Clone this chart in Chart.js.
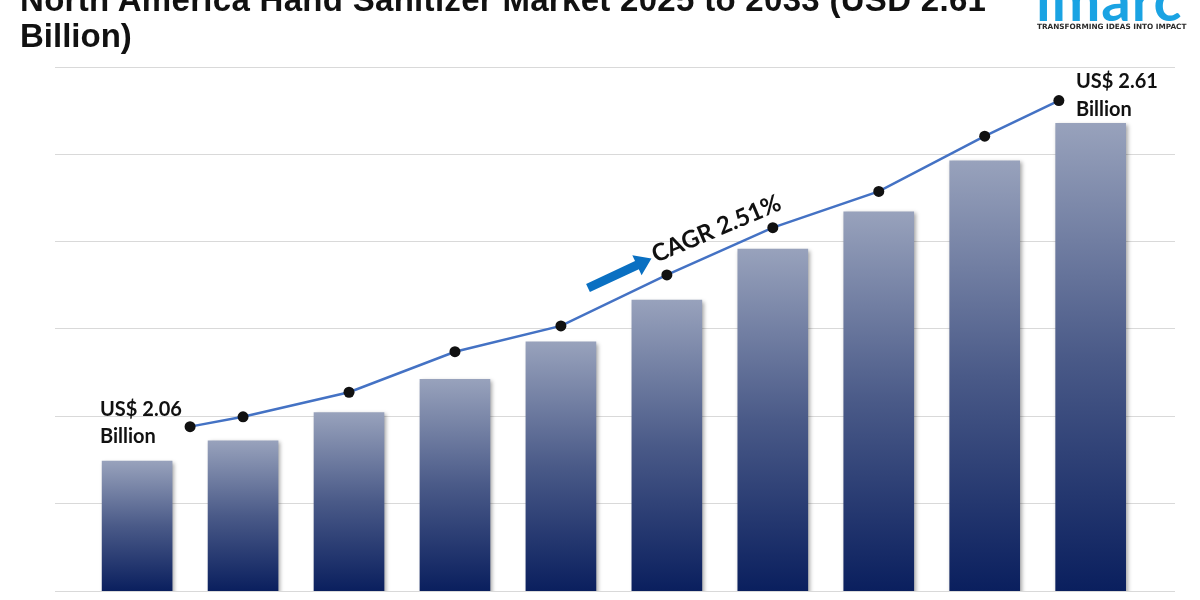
<!DOCTYPE html>
<html>
<head>
<meta charset="utf-8">
<script src="https://cdn.jsdelivr.net/npm/chart.js@4.4.1/dist/chart.umd.min.js"></script>
<style>
  html, body { margin: 0; padding: 0; background: #fff; }
  #wrap { position: relative; width: 1200px; height: 600px; overflow: hidden; }
  #marketChart { position: absolute; left: 0; top: 0; }
  .title { position: absolute; left: 20px; font-family: "Liberation Sans", Arial, sans-serif;
           font-weight: bold; font-size: 33px; color: #111; white-space: nowrap; line-height: 34px; }
  .logo { position: absolute; left: 1036px; top: -29px; font-family: Lato, sans-serif; font-weight: bold;
          font-size: 58px; color: #1aa3e3; line-height: 56px; letter-spacing: 1px; }
  .tagline { position: absolute; left: 1037px; top: 22px; font-family: "DejaVu Sans", sans-serif; font-weight: bold;
             font-size: 7.3px; color: #2b2b2b; white-space: nowrap; }
</style>
</head>
<body>
<div id="wrap">
  <canvas id="marketChart" width="1200" height="600"></canvas>
  <div class="title" style="top:-17px; letter-spacing:0.3px">North America Hand Sanitizer Market 2025 to 2033 (USD 2.61</div>
  <div class="title" style="top:19px">Billion)</div>
  <div class="logo">imarc</div>
  <div class="tagline">TRANSFORMING IDEAS INTO IMPACT</div>
</div>
<script>
// bars: market size, US$ billion
const years = ["2024", "2025", "2026", "2027", "2028", "2029", "2030", "2031", "2032", "2033"];
const marketValues = [2.06, 2.093, 2.139, 2.193, 2.254, 2.322, 2.405, 2.466, 2.549, 2.61];

// decorative trend line above the bars (x in year-index units)
const trendPos = [0.5, 1, 2, 3, 4, 5, 6, 7, 8, 8.7];
const trendValues = [2.116, 2.132, 2.172, 2.238, 2.280, 2.363, 2.440, 2.499, 2.589, 2.647];

const startLabel = ["US$ 2.06", "Billion"];
const endLabel = ["US$ 2.61", "Billion"];
const cagrLabel = "CAGR 2.51%";

const barData = years.map((y, i) => ({ x: i, y: marketValues[i] }));
const lineData = trendPos.map((p, i) => ({ x: p, y: trendValues[i] }));

function barGradient(context) {
    const chart = context.chart;
    const { chartArea, scales } = chart;
    if (!chartArea || context.type !== "data") return "#44558a";
    const top = scales.y.getPixelForValue(context.raw.y);
    const bottom = scales.y.getPixelForValue(scales.y.min);
    const g = chart.ctx.createLinearGradient(0, top, 0, bottom);
    g.addColorStop(0, "#98a2bc");
    g.addColorStop(0.5, "#4a5a88");
    g.addColorStop(1, "#0a1f5e");
    return g;
}

const barShadow = {
    id: "barShadow",
    beforeDatasetDraw(chart, args) {
        if (args.meta.type !== "bar") return;
        const ctx = chart.ctx;
        ctx.save();
        ctx.shadowColor = "rgba(0,0,0,0.35)";
        ctx.shadowBlur = 4;
        ctx.shadowOffsetX = 2;
        ctx.shadowOffsetY = 2;
    },
    afterDatasetDraw(chart, args) {
        if (args.meta.type !== "bar") return;
        chart.ctx.restore();
    }
};

const annotations = {
    id: "annotations",
    afterDraw(chart) {
        const ctx = chart.ctx;
        ctx.save();
        ctx.fillStyle = "#111";
        ctx.font = "bold 20px Lato";
        ctx.textBaseline = "alphabetic";
        ctx.fillText(startLabel[0], 100, 416);
        ctx.fillText(startLabel[1], 100, 443);
        ctx.fillText(endLabel[0], 1076, 88);
        ctx.fillText(endLabel[1], 1076, 116);

        // CAGR text
        ctx.save();
        ctx.translate(656, 263);
        ctx.rotate(-23 * Math.PI / 180);
        ctx.font = "bold 24px Lato";
        ctx.fillText(cagrLabel, 0, 0);
        ctx.restore();

        // blue arrow
        ctx.save();
        ctx.translate(588, 288);
        ctx.rotate(-25 * Math.PI / 180);
        ctx.fillStyle = "#0a70c2";
        ctx.beginPath();
        ctx.moveTo(0, -4.5);
        ctx.lineTo(54, -4.5);
        ctx.lineTo(54, -11);
        ctx.lineTo(70, 0);
        ctx.lineTo(54, 11);
        ctx.lineTo(54, 4.5);
        ctx.lineTo(0, 4.5);
        ctx.closePath();
        ctx.fill();
        ctx.restore();
        ctx.restore();
    }
};

new Chart(document.getElementById("marketChart"), {
    type: "bar",
    data: {
        datasets: [
            {
                type: "line",
                data: lineData,
                borderColor: "#4472c4",
                borderWidth: 2.5,
                pointRadius: 5.5,
                pointBackgroundColor: "#111",
                pointBorderColor: "#111",
                pointBorderWidth: 0,
                tension: 0,
                order: 0
            },
            {
                type: "bar",
                data: barData,
                backgroundColor: barGradient,
                barThickness: 70,
                order: 1
            }
        ]
    },
    options: {
        responsive: false,
        animation: false,
        devicePixelRatio: 1,
        layout: { padding: { left: 55, right: 25, top: 67, bottom: 9 } },
        plugins: { legend: { display: false }, tooltip: { enabled: false } },
        scales: {
            x: { type: "linear", display: false, offset: false, min: -0.775, max: 9.796 },
            y: {
                min: 1.8483,
                max: 2.7017,
                border: { display: false },
                ticks: { display: false, count: 7 },
                grid: { color: "#d9d9d9", lineWidth: 1, drawTicks: false }
            }
        }
    },
    plugins: [barShadow, annotations]
});
</script>
</body>
</html>
